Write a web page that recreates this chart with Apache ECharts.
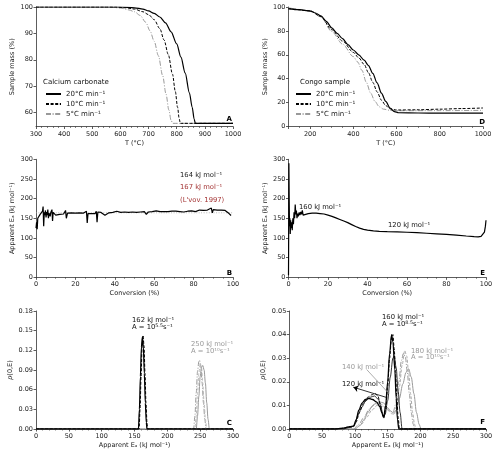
<!DOCTYPE html>
<html>
<head>
<meta charset="utf-8">
<title>TGA / Ea panels</title>
<script src="https://cdn.jsdelivr.net/npm/echarts@6/dist/echarts.min.js"></script>
<style>
  html, body { margin: 0; padding: 0; background: #fff; }
  #main { width: 500px; height: 457px; }
</style>
</head>
<body>
<div id="main"></div>
<script type="text/javascript">
// ---- data ----
// A: calcium carbonate, sample mass (%) vs T (°C)
var massA20 = [[300,100],[600,100],[650,99.7],[680,99.2],[700,98.5],[720,97.6],[740,96.2],[760,94],[780,90.6],[800,86],[815,81],[830,75],[845,67.5],[855,62],[862,57.5],[866,55.9],[1000,55.9]];
var massA10 = [[300,100],[580,100],[620,99.7],[650,99.2],[680,98.2],[700,97.1],[720,95.2],[740,91.8],[755,87.5],[770,82],[785,74.5],[795,68],[803,62],[809,57.5],[813,55.9],[1000,55.9]];
var massA5  = [[300,100],[560,100],[600,99.6],[630,98.9],[650,98.2],[670,96.8],[690,94.2],[705,91],[720,87],[735,81.5],[750,74],[762,67],[772,61],[780,57],[786,55.9],[1000,55.9]];

// D: Congo sample
var massD20 = [[100,98.5],[150,97.8],[200,96.5],[225,95],[250,92.5],[275,88],[300,82.5],[325,78],[350,73.5],[375,68.5],[400,64],[425,60],[450,55.5],[470,51],[490,44.5],[510,36.5],[530,28],[550,21],[570,15.5],[590,12.5],[610,11.5],[700,11.3],[800,11.2],[1000,11.2]];
var massD10 = [[100,98.8],[200,96.8],[250,92],[300,81],[350,71.5],[400,62],[425,57.5],[450,52],[470,45],[490,37],[510,29],[530,22],[550,17.5],[570,14.8],[600,13.8],[700,14],[800,14.5],[900,15],[1000,15.5]];
var massD5  = [[100,99.3],[200,97],[250,91.5],[300,79.5],[350,69],[400,58.5],[420,54],[440,47],[460,37],[480,28],[500,21],[520,16.5],[540,14.5],[570,13.5],[600,13.2],[800,13.3],[1000,13.5]];

// B: apparent Ea vs conversion, calcium carbonate
var eaB = [[0,125],[0.3,140],[0.6,122],[0.9,150],[1.2,148],[1.5,152],[1.8,147],[2.1,160],[2.4,155],[2.7,165],[3.0,158],[3.3,168],[3.6,180],[3.9,130],[4.2,165],[4.5,158],[4.8,170],[5.1,152],[5.4,166],[5.7,158],[6.0,172],[6.3,150],[6.6,163],[6.9,168],[7.2,155],[7.5,165],[7.8,160],[8.1,172],[8.4,143],[8.7,165],[9.0,160],[9.5,164],[10,158],[11,163],[12,160],[13,165],[14,161],[15,170],[15.4,150],[16,163],[17,161],[18,164],[19,162],[20,163],[21,161],[22,164],[23,162],[24,163],[25,161],[25.6,168],[26,138],[26.4,162],[27,164],[28,162],[29,163],[30,162],[30.6,168],[31,140],[31.4,166],[32,163],[33,165],[34,161],[35,158],[36,163],[37,164],[38,162],[39,165],[40,163],[41,168],[42,163],[43,165],[44,164],[45,166],[46,163],[47,165],[48,164],[49,166],[50,164],[51,165],[52,163],[53,166],[54,164],[55,167],[56,160],[57,166],[58,165],[59,167],[60,166],[61,169],[62,168],[63,167],[64,168],[65,167],[66,168],[67,167],[68,166],[69,168],[70,167],[71,168],[72,166],[73,167],[74,168],[75,166],[76,167],[77,168],[78,167],[79,169],[80,168],[81,167],[82,169],[83,171],[84,168],[85,170],[86,169],[87,171],[88,170],[89,176],[89.5,164],[90,172],[91,170],[92,171],[93,169],[94,171],[95,168],[96,170],[97,166],[98,162],[99,157]];
var meanB = [[0,164],[100,164]];

// E: apparent Ea vs conversion, Congo sample
var eaE = [[0,5],[0.05,60],[0.1,120],[0.2,290],[0.35,200],[0.5,130],[0.7,150],[0.9,110],[1.1,145],[1.3,125],[1.6,140],[1.9,120],[2.2,150],[2.5,135],[2.8,165],[3.1,150],[3.4,185],[3.7,160],[4.0,170],[4.3,150],[4.6,162],[5.0,155],[5.4,165],[5.8,158],[6.2,166],[6.6,160],[7.0,170],[7.4,158],[8,162],[10,162],[12,163],[14,163],[16,162],[18,161],[20,158],[22,155],[24,151],[26,147],[28,143],[30,139],[32,134],[34,129],[36,125],[38,122],[40,120],[43,118],[46,117],[50,116],[55,115.5],[60,114.5],[65,113.5],[70,112],[75,110.5],[80,109],[85,107],[90,105],[94,103.5],[96,103],[97.5,104],[98.5,108],[99.2,115],[99.7,130],[100,145]];

// C: p(0,E) distributions, calcium carbonate
var pC1 = [[0,0],[156,0],[157.5,0.03],[159,0.08],[160.5,0.125],[162,0.14],[163.5,0.125],[165,0.085],[166.5,0.04],[168,0.01],[169,0],[300,0]];
var pC2 = [[0,0],[157,0],[158.5,0.03],[160,0.08],[161.5,0.125],[163,0.143],[164.5,0.127],[166,0.085],[167.5,0.04],[169,0.01],[170,0],[300,0]];
var pC3 = [[0,0],[240,0],[242,0.02],[244,0.055],[246,0.088],[248,0.103],[249,0.105],[251,0.095],[253,0.07],[255,0.04],[257,0.015],[259,0],[300,0]];
var pC4 = [[0,0],[242,0],[244,0.02],[246,0.055],[248,0.085],[250,0.1],[252,0.095],[254,0.07],[256,0.04],[258,0.015],[260,0],[300,0]];
var pC5 = [[0,0],[244,0],[246,0.02],[248,0.05],[250,0.08],[252,0.094],[254,0.097],[256,0.09],[258,0.07],[260,0.04],[262,0.015],[264,0],[300,0]];

// F: p(0,E) distributions, Congo sample
var pF1 = [[0,0],[70,0],[85,0.0005],[92,0.001],[98,0.0012],[102,0.004],[106,0.008],[111,0.011],[116,0.0125],[121,0.013],[127,0.0125],[133,0.0115],[138,0.0095],[141,0.007],[144,0.005],[147,0.01],[150,0.02],[153,0.032],[156,0.04],[158,0.037],[161,0.025],[163,0.013],[165,0.004],[167,0],[300,0]];
var pF2 = [[0,0],[75,0],[90,0.0008],[98,0.001],[102,0.003],[107,0.007],[113,0.011],[120,0.0135],[126,0.0145],[131,0.015],[135,0.014],[139,0.0105],[142,0.006],[144,0.0045],[147,0.008],[150,0.018],[153,0.03],[156,0.039],[158,0.04],[160,0.034],[162,0.024],[164,0.013],[166,0.005],[168,0],[300,0]];
var pF3 = [[0,0],[80,0],[95,0.0008],[100,0.002],[105,0.006],[110,0.009],[117,0.012],[124,0.0135],[130,0.014],[136,0.0125],[140,0.009],[143,0.0055],[146,0.006],[150,0.012],[154,0.022],[158,0.03],[160,0.031],[163,0.026],[166,0.016],[169,0.007],[172,0],[300,0]];
var pF4 = [[0,0],[100,0],[108,0.0015],[114,0.004],[120,0.007],[126,0.0095],[132,0.011],[138,0.0115],[144,0.011],[150,0.009],[155,0.0075],[159,0.0068],[163,0.008],[168,0.013],[173,0.019],[178,0.024],[182,0.0255],[186,0.022],[190,0.015],[194,0.007],[198,0.002],[201,0],[300,0]];
var pF5 = [[0,0],[100,0],[110,0.002],[118,0.005],[126,0.008],[134,0.01],[142,0.0095],[150,0.008],[156,0.0065],[160,0.0062],[164,0.01],[168,0.018],[172,0.027],[176,0.0332],[179,0.031],[182,0.024],[185,0.015],[188,0.007],[191,0.002],[193,0],[300,0]];
var pF6 = [[0,0],[98,0],[106,0.002],[114,0.005],[122,0.0085],[130,0.0105],[138,0.011],[145,0.0095],[152,0.008],[158,0.007],[163,0.011],[167,0.02],[171,0.029],[174,0.032],[177,0.0305],[180,0.024],[183,0.015],[186,0.007],[189,0.002],[191,0],[300,0]];

var rateNames = ['20°C min⁻¹', '10°C min⁻¹', '5°C min⁻¹'];

// ---- styles ----
var FONT = 'DejaVu Sans';
var TXT = '#222';
var GRAY = '#999';
var DASH = [3, 1.6];
var DASHDOT = [5, 1.6, 1, 1.6];

var myChart = echarts.init(document.getElementById('main'));

function plain(v) { return String(v); }
function fix2(v) { return v.toFixed(2); }

function xAxisOf(grid, min, max, interval, name, minorSplit, extra) {
    var ax = {
        gridIndex: grid, type: 'value', min: min, max: max, interval: interval,
        name: name, nameLocation: 'middle', nameGap: 13,
        nameTextStyle: { fontFamily: FONT, fontSize: 6.5, color: TXT },
        axisLine: { show: true, onZero: false, lineStyle: { color: '#333', width: 0.8 } },
        axisTick: { show: true, length: 2.5, lineStyle: { color: '#333', width: 0.8 } },
        minorTick: { show: true, splitNumber: minorSplit, length: 1.5, lineStyle: { color: '#333', width: 0.6 } },
        axisLabel: { fontFamily: FONT, fontSize: 6.5, color: TXT, margin: 4, formatter: plain },
        splitLine: { show: false }
    };
    return Object.assign(ax, extra || {});
}
function yAxisOf(grid, min, max, interval, name, extra) {
    var ax = {
        gridIndex: grid, type: 'value', min: min, max: max, interval: interval,
        name: name, nameLocation: 'middle', nameGap: 20,
        nameTextStyle: { fontFamily: FONT, fontSize: 6.5, color: TXT },
        axisLine: { show: true, onZero: false, lineStyle: { color: '#333', width: 0.8 } },
        axisTick: { show: true, length: 2.5, lineStyle: { color: '#333', width: 0.8 } },
        axisLabel: { fontFamily: FONT, fontSize: 6.5, color: TXT, margin: 3, formatter: plain },
        splitLine: { show: false }
    };
    return Object.assign(ax, extra || {});
}
function line(name, data, xi, color, type, width, z) {
    return {
        name: name, type: 'line', xAxisIndex: xi, yAxisIndex: xi, data: data,
        showSymbol: false, symbol: 'none', smooth: 0.3, smoothMonotone: 'x',
        lineStyle: { color: color, type: type, width: width || 1 },
        itemStyle: { color: color }, z: z || 2, animation: false, silent: true
    };
}
function txt(x, y, text, color, extra) {
    return {
        type: 'text', x: x, y: y, silent: true,
        style: Object.assign({ text: text, fill: color || '#111', font: '6.8px "DejaVu Sans"', textVerticalAlign: 'middle' }, extra || {})
    };
}
var supRich = { s: { fontSize: 4.8, fontFamily: FONT, verticalAlign: 'top', padding: [0, 0, 3, 0] } };
var pName = { i: { fontStyle: 'italic', fontFamily: FONT, fontSize: 6.5, color: TXT } };

function legendAt(left) {
    return {
        data: rateNames, orient: 'vertical', left: left, top: 90.5, itemWidth: 15, itemHeight: 7, itemGap: 3,
        itemStyle: { opacity: 0 },
        textStyle: { fontFamily: FONT, fontSize: 7, color: TXT }, padding: 0, selectedMode: false
    };
}

var option = {
    backgroundColor: '#fff',
    grid: [
        { left: 36, top: 7, width: 197, height: 119.5 },      // A
        { left: 36, top: 159.3, width: 197, height: 118 },    // B
        { left: 36, top: 311, width: 197, height: 118 },      // C
        { left: 288.5, top: 7, width: 194.5, height: 119.5 }, // D
        { left: 288.5, top: 159.3, width: 197.5, height: 118 }, // E
        { left: 289.3, top: 311, width: 196.7, height: 118 }  // F
    ],
    xAxis: [
        xAxisOf(0, 300, 1000, 100, 'T (°C)', 5),
        xAxisOf(1, 0, 100, 20, 'Conversion (%)', 4),
        xAxisOf(2, 0, 300, 50, 'Apparent Eₐ (kJ mol⁻¹)', 5),
        xAxisOf(3, 100, 1000, null, 'T (°C)', 4, { splitNumber: 5, axisLabel: { fontFamily: FONT, fontSize: 6.5, color: TXT, margin: 4, showMinLabel: false, formatter: plain } }),
        xAxisOf(4, 0, 100, 20, 'Conversion (%)', 4),
        xAxisOf(5, 0, 300, 50, 'Apparent Eₐ (kJ mol⁻¹)', 5)
    ],
    yAxis: [
        yAxisOf(0, 54.7, 100, null, 'Sample mass (%)', { splitNumber: 5, axisLabel: { fontFamily: FONT, fontSize: 6.5, color: TXT, margin: 3, showMinLabel: false, formatter: plain } }),
        yAxisOf(1, 0, 300, 50, 'Apparent Eₐ (kJ mol⁻¹)'),
        yAxisOf(2, 0, 0.18, 0.03, '{i|p}(0,E)', { axisLabel: { fontFamily: FONT, fontSize: 6.5, color: TXT, margin: 3, formatter: fix2 },
            nameTextStyle: { fontFamily: FONT, fontSize: 6.5, color: TXT, rich: pName }, nameGap: 22 }),
        yAxisOf(3, 0, 100, 20, 'Sample mass (%)'),
        yAxisOf(4, 0, 300, 50, 'Apparent Eₐ (kJ mol⁻¹)'),
        yAxisOf(5, 0, 0.05, 0.01, '{i|p}(0,E)', { axisLabel: { fontFamily: FONT, fontSize: 6.5, color: TXT, margin: 3, formatter: fix2 },
            nameTextStyle: { fontFamily: FONT, fontSize: 6.5, color: TXT, rich: pName }, nameGap: 22 })
    ],
    legend: [legendAt(45), legendAt(295)],
    series: [
        // A
        line(rateNames[0], massA20, 0, '#000', 'solid', 1.2, 4),
        line(rateNames[1], massA10, 0, '#000', DASH, 1, 3),
        line(rateNames[2], massA5, 0, GRAY, DASHDOT, 1, 2),
        // B
        line('meanB', meanB, 1, '#aaa', [1, 1.5], 0.8, 1),
        Object.assign(line('eaB', eaB, 1, '#000', 'solid', 1.2, 3), { smooth: false }),
        // C
        line('c1', pC1, 2, '#000', 'solid', 1.3, 4),
        line('c2', pC2, 2, '#000', DASH, 1, 5),
        line('c3', pC3, 2, GRAY, DASHDOT, 1, 2),
        line('c4', pC4, 2, '#bbb', DASH, 1, 2),
        line('c5', pC5, 2, GRAY, 'solid', 1, 2),
        // D
        line(rateNames[0], massD20, 3, '#000', 'solid', 1.2, 4),
        line(rateNames[1], massD10, 3, '#000', DASH, 1, 3),
        line(rateNames[2], massD5, 3, GRAY, DASHDOT, 1, 2),
        // E
        Object.assign(line('eaE', eaE, 4, '#000', 'solid', 1.2, 3), { smooth: false }),
        // F
        Object.assign(line('f1', pF1, 5, '#000', 'solid', 1.3, 4), {
            markLine: {
                silent: true, animation: false, symbolSize: 5, label: { show: false },
                data: [
                    [{ coord: [97.7, 0.0177], symbol: 'arrow', lineStyle: { color: '#000', type: 'solid', width: 0.8 } }, { coord: [148, 0.0134], symbol: 'none' }],
                    [{ coord: [118, 0.0252], symbol: 'none', lineStyle: { color: GRAY, type: 'solid', width: 0.8 } }, { coord: [152, 0.015], symbol: 'none' }]
                ]
            }
        }),
        line('f2', pF2, 5, '#000', DASH, 1, 5),
        line('f3', pF3, 5, '#000', 'solid', 0.8, 3),
        line('f4', pF4, 5, GRAY, 'solid', 1, 2),
        line('f5', pF5, 5, '#aaa', DASH, 1, 2),
        line('f6', pF6, 5, GRAY, DASHDOT, 1, 2)
    ],
    graphic: [
        // legend titles
        txt(43, 82.3, 'Calcium carbonate', '#111', { font: '7px "DejaVu Sans"' }),
        txt(300, 82.3, 'Congo sample', '#111', { font: '7px "DejaVu Sans"' }),
        // panel letters
        txt(232, 119, 'A', '#000', { font: 'bold 7px "DejaVu Sans"', textAlign: 'right' }),
        txt(485, 122, 'D', '#000', { font: 'bold 7px "DejaVu Sans"', textAlign: 'right' }),
        txt(232, 272.7, 'B', '#000', { font: 'bold 7px "DejaVu Sans"', textAlign: 'right' }),
        txt(485, 272.7, 'E', '#000', { font: 'bold 7px "DejaVu Sans"', textAlign: 'right' }),
        txt(232, 423, 'C', '#000', { font: 'bold 7px "DejaVu Sans"', textAlign: 'right' }),
        txt(485, 422, 'F', '#000', { font: 'bold 7px "DejaVu Sans"', textAlign: 'right' }),
        // B notes
        txt(180, 175, '164 kJ mol⁻¹', '#222'),
        txt(180, 187.5, '167 kJ mol⁻¹', '#a33333'),
        txt(180, 200, '(L\'vov. 1997)', '#a33333'),
        // E notes
        txt(299, 207.3, '160 kJ mol⁻¹', '#111'),
        txt(388, 225, '120 kJ mol⁻¹', '#111'),
        // C notes
        txt(132, 320, '162 kJ mol⁻¹', '#111'),
        txt(132, 327.5, 'A = 10{s|5.5}s⁻¹', '#111', { rich: supRich }),
        txt(191, 344, '250 kJ mol⁻¹', GRAY),
        txt(191, 351.7, 'A = 10¹⁰s⁻¹', GRAY),
        // F notes
        txt(382, 317, '160 kJ mol⁻¹', '#111'),
        txt(382, 324.5, 'A = 10{s|8.5}s⁻¹', '#111', { rich: supRich }),
        txt(411, 351, '180 kJ mol⁻¹', GRAY),
        txt(411, 357.7, 'A = 10¹⁰s⁻¹', GRAY),
        txt(342, 367, '140 kJ mol⁻¹', GRAY),
        txt(342, 384, '120 kJ mol⁻¹', '#111')
    ]
};

myChart.setOption(option);
</script>
</body>
</html>
